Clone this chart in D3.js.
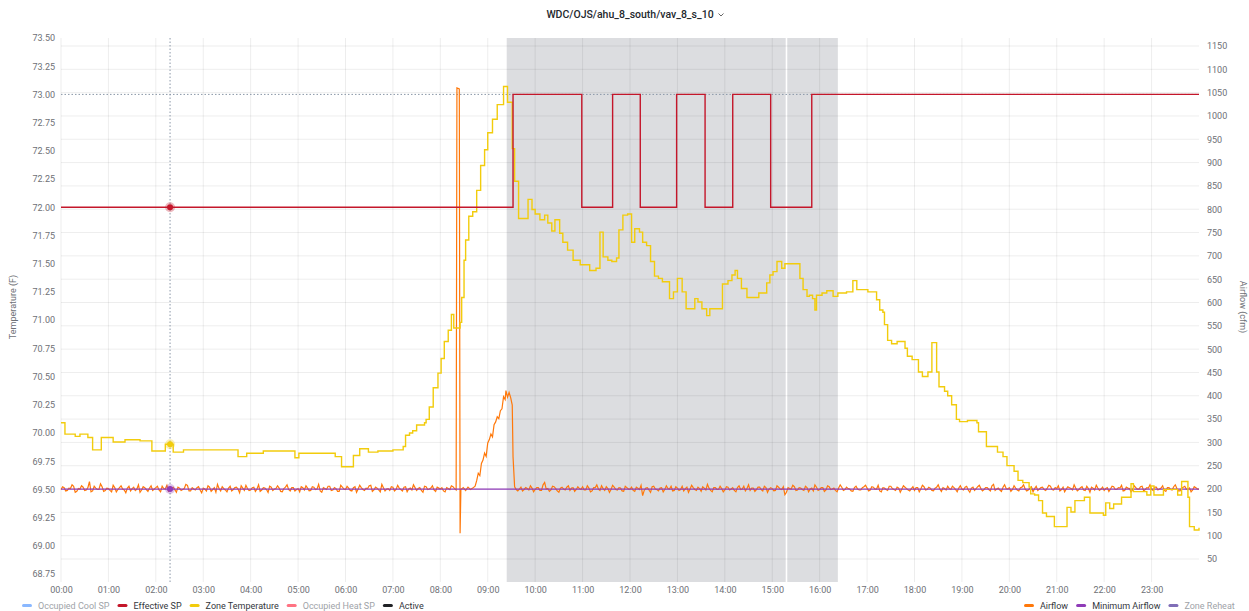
<!DOCTYPE html>
<html><head><meta charset="utf-8">
<script src="https://cdn.jsdelivr.net/npm/d3@7"></script>
<style>
html,body{margin:0;padding:0;background:#fff;}
svg{display:block;font-family:Roboto,"Noto Sans",sans-serif;}
</style></head>
<body><svg id="c" width="1249" height="611"></svg>
<script>
// ---------------- DATA ----------------
const title = "WDC/OJS/ahu_8_south/vav_8_s_10";
const hourTicks = ["00:00","01:00","02:00","03:00","04:00","05:00","06:00","07:00","08:00","09:00","10:00","11:00","12:00","13:00","14:00","15:00","16:00","17:00","18:00","19:00","20:00","21:00","22:00","23:00"];
const leftTicks = [68.75,69.00,69.25,69.50,69.75,70.00,70.25,70.50,70.75,71.00,71.25,71.50,71.75,72.00,72.25,72.50,72.75,73.00,73.25,73.50];
const rightTicks = [50,100,150,200,250,300,350,400,450,500,550,600,650,700,750,800,850,900,950,1000,1050,1100,1150];

// Effective SP (minutes since midnight, F) - step after
const spMinutes = [0,572,659,698,733,779,815,850,898,950,1440];
const spValues  = [72,73,72,73,72,73,72,73,72,73,73];

// Zone Temperature (minutes, F) - step after
const ztMinutes = [0,5,18,24,34,40,51,66,81,100,115,132,142,155,184,224,235,256,296,301,347,355,370,378,389,401,420,433,436,441,445,450,460,462,466,471,477,481,485,490,494,497,505,507,510,512,516,521,526,531,536,540,546,552,560,565,571,574,579,591,596,600,606,612,616,621,625,631,635,641,648,657,669,677,682,686,692,697,703,706,711,717,722,726,732,736,741,746,751,756,761,770,775,780,786,791,802,806,811,817,821,837,844,849,853,856,861,868,883,893,897,901,906,912,916,935,939,944,947,951,954,956,963,969,977,983,994,1002,1007,1021,1032,1036,1040,1042,1046,1051,1058,1068,1071,1077,1085,1090,1097,1102,1108,1111,1118,1122,1127,1133,1137,1147,1159,1161,1171,1185,1192,1197,1206,1211,1217,1225,1227,1232,1237,1242,1247,1257,1273,1278,1283,1295,1302,1319,1322,1327,1332,1342,1354,1357,1374,1379,1383,1395,1413,1418,1426,1428,1434,1440];
const ztValues  = [70.09,69.99,69.97,69.99,69.96,69.85,69.96,69.92,69.94,69.93,69.84,69.90,69.83,69.85,69.85,69.79,69.82,69.84,69.78,69.82,69.79,69.70,69.80,69.86,69.83,69.84,69.85,69.88,69.98,70.00,70.02,70.07,70.09,70.12,70.23,70.40,70.53,70.66,70.81,70.91,71.05,70.93,70.98,71.20,71.53,71.71,71.92,71.96,72.15,72.37,72.51,72.66,72.78,72.91,73.07,72.93,72.52,72.23,71.90,72.07,71.98,71.94,71.89,71.93,71.86,71.79,71.89,71.77,71.69,71.62,71.53,71.49,71.44,71.46,71.78,71.56,71.53,71.52,71.55,71.80,71.93,71.94,71.69,71.81,71.78,71.69,71.66,71.52,71.39,71.37,71.34,71.19,71.25,71.37,71.25,71.10,71.19,71.16,71.10,71.04,71.10,71.32,71.35,71.40,71.44,71.37,71.28,71.20,71.24,71.33,71.40,71.43,71.52,71.46,71.50,71.37,71.27,71.21,71.22,71.19,71.09,71.22,71.24,71.26,71.21,71.24,71.25,71.35,71.27,71.25,71.18,71.09,71.07,70.96,70.82,70.79,70.81,70.75,70.68,70.65,70.54,70.50,70.54,70.80,70.54,70.41,70.37,70.33,70.25,70.12,70.10,70.11,70.09,70.01,69.88,69.83,69.79,69.71,69.66,69.58,69.56,69.52,69.46,69.45,69.40,69.29,69.26,69.17,69.34,69.30,69.40,69.43,69.29,69.27,69.38,69.33,69.37,69.43,69.55,69.48,69.45,69.53,69.45,69.50,69.45,69.57,69.43,69.17,69.14,69.16];

// Airflow readings at minutes 0,4,8,... (cfm)
const airflowEven = [
199,203,197,201,206,195,200,204,198,216,196,202,199,205,197,
201,194,203,199,207,198,202,196,204,200,193,205,199,202,197,
203,198,206,200,195,202,199,204,197,201,208,196,200,203,198,
202,196,204,199,193,201,205,198,202,196,203,200,207,197,201,
198,204,200,195,203,199,206,197,201,202,194,204,199,203,196,
201,205,198,202,197,204,200,196,203,199,206,198,201,195,204,
199,202,196,205,200,203,197,201,208,198,202,194,203,200,197,
204,199,202,196,205,200,198,203,201,197,206,199,202,198,204,
200,196,203,199,205,201,197,202,198,204,200,203,196,201,199,
202,198,205,199,203,197,201,204,199,206,200,196,203,198,202,
199,203,197,214,201,198,205,196,202,200,204,197,203,199,201,
205,198,202,196,203,200,207,197,201,199,204,198,202,195,203,
200,197,204,199,186,202,198,205,200,196,203,199,201,206,197,
202,199,196,204,200,203,197,201,205,198,202,194,203,199,201,
198,204,200,197,203,199,206,201,197,202,199,204,196,203,200,
201,197,204,199,188,203,200,205,198,202,197,203,200,196,204,
199,203,198,205,200,197,202,204,199,201,196,203,200,198,205,
202,198,204,200,196,203,199,206,201,197,202,200,204,198,201,
197,203,200,205,199,202,196,204,200,203,198,201,206,199,202,
200,204,198,202,197,205,201,199,203,196,210,200,198,204,201,
203,199,202,196,204,200,198,205,201,197,203,199,202,206,198,
201,196,204,200,203,198,202,199,205,197,201,204,198,202,200,
197,203,200,205,199,202,196,204,201,198,203,200,206,199,202,
200,204,198,202,197,203,199,205,201,196,204,200,202,198,203,
200];
// Airflow readings at minutes 2,6,10,... (cfm)
const airflowOdd = [
205,196,202,209,193,201,207,197,203,194,206,199,211,195,202,
197,208,194,203,200,192,206,201,197,209,198,203,195,207,200,
206,194,201,208,197,204,193,202,199,210,196,203,198,205,192,
200,207,195,203,210,196,201,194,206,199,204,192,202,208,197,
203,195,209,198,202,193,204,200,207,195,201,209,196,203,199,
194,203,207,196,205,199,210,193,201,206,197,203,195,208,200,
206,197,203,193,208,199,202,207,195,204,198,210,196,201,205,
196,208,199,204,194,202,209,197,203,193,205,200,207,195,202,
203,194,201,207,198,205,193,209,200,196,204,199,206,197,203,
195,206,200,203,193,208,197,202,210,196,204,199,201,207,194,
203,197,209,200,195,206,201,193,204,198,207,202,195,205,199,
198,207,194,203,209,197,201,205,193,208,199,203,196,206,200,
204,195,202,208,197,203,193,206,199,202,194,207,200,196,205,
197,206,201,193,208,199,204,195,202,210,197,203,199,206,194,
205,198,203,194,207,200,196,209,202,195,204,199,206,193,203,
196,207,200,205,193,201,208,197,203,199,206,194,202,209,197,
203,195,207,199,202,194,209,197,204,200,195,206,198,203,208,
196,205,200,208,194,202,197,206,199,204,193,207,201,196,205,
203,194,208,198,204,197,202,209,195,201,206,199,203,194,207,
198,206,193,204,201,208,196,203,199,207,197,202,195,209,200,
195,207,198,203,209,196,202,194,206,200,204,197,208,199,203,
207,199,194,205,201,209,196,203,198,206,193,202,208,197,204,
201,195,206,199,203,208,197,202,194,207,200,205,196,203,209,
197,204,200,207,195,203,198,209,196,202,206,199,194,205,200];
// Airflow readings during the morning event (minutes, cfm)
const airflowEventMinutes = [498,500,501,504,505,506,509,512,515,518,521,524,526,528,530,532,534,536,538,540,542,544,546,548,550,552,554,556,558,560,562,563,565,567,569,571,572,574,576];
const airflowEventValues  = [201,198,1060,1058,105,199,203,197,204,199,202,206,218,234,229,255,262,277,270,299,306,318,312,338,344,355,351,368,372,398,392,411,397,407,396,380,269,205,199];

const minAirflowMinutes = [0,1440];
const minAirflowValues = [200,200];

// Occupancy band (minutes)
const bandStart = [564,919];
const bandEnd   = [917,983];
const cursorMinute = 138;
const cursorTempMark = 73.00;

const legendLeft = [
  {name:"Occupied Cool SP", color:"#8AB8FF", hidden:true},
  {name:"Effective SP", color:"#C4162A", hidden:false},
  {name:"Zone Temperature", color:"#F2CC0C", hidden:false},
  {name:"Occupied Heat SP", color:"#FF7383", hidden:true},
  {name:"Active", color:"#202226", hidden:false}
];
const legendRight = [
  {name:"Airflow", color:"#FF780A", hidden:false},
  {name:"Minimum Airflow", color:"#8F3BB8", hidden:false},
  {name:"Zone Reheat", color:"#806EB7", hidden:true}
];

// ---------------- CHART ----------------
const svg = d3.select("#c");
const pL = 61, pR = 1199, pT = 38, pB = 582;
const x = d3.scaleLinear().domain([0,1440]).range([pL,pR]);
const yL = d3.scaleLinear().domain([68.75,73.5]).range([574,38]);
const yR = d3.scaleLinear().domain([50,1150]).range([559,46]);

// band
svg.append("g").selectAll("rect").data(bandStart).join("rect")
  .attr("x",(d)=>x(d)).attr("width",(d,i)=>x(bandEnd[i])-x(d))
  .attr("y",pT).attr("height",pB-pT).attr("fill","#DCDDE0");

// grid
const grid = svg.append("g");
grid.selectAll("line.h").data(rightTicks).join("line")
  .attr("x1",pL).attr("x2",pR).attr("y1",d=>yR(d)).attr("y2",d=>yR(d))
  .attr("stroke","rgba(0,0,0,0.07)");
grid.selectAll("line.v").data(hourTicks).join("line")
  .attr("x1",(d,i)=>x(i*60)).attr("x2",(d,i)=>x(i*60)).attr("y1",pT).attr("y2",pB)
  .attr("stroke","rgba(0,0,0,0.07)");

// axes
const tickFont = g => g.selectAll("text").attr("fill","#6e7076").style("font-size","9px").style("font-family","Roboto");
const axL = svg.append("g").attr("transform",`translate(${pL},0)`)
  .call(d3.axisLeft(yL).tickValues(leftTicks).tickFormat(d3.format(".2f")).tickSize(0).tickPadding(6));
axL.select(".domain").remove(); tickFont(axL);
const axR = svg.append("g").attr("transform",`translate(${pR},0)`)
  .call(d3.axisRight(yR).tickValues(rightTicks).tickFormat(d3.format("d")).tickSize(0).tickPadding(8));
axR.select(".domain").remove(); tickFont(axR);
const axB = svg.append("g").attr("transform",`translate(0,${pB})`)
  .call(d3.axisBottom(x).tickValues(hourTicks.map((d,i)=>i*60)).tickFormat((d,i)=>hourTicks[i]).tickSize(0).tickPadding(5));
axB.select(".domain").remove(); tickFont(axB);

svg.append("text").attr("transform",`translate(16,307) rotate(-90)`).attr("text-anchor","middle")
  .attr("fill","#6e7076").style("font-size","9px").text("Temperature (F)");
svg.append("text").attr("transform",`translate(1240,307) rotate(90)`).attr("text-anchor","middle")
  .attr("fill","#6e7076").style("font-size","9px").text("Airflow (cfm)");

// title
svg.append("text").attr("x",630).attr("y",18).attr("text-anchor","middle")
  .attr("fill","#24292e").style("font-size","10.5px").style("font-weight","500").text(title);
svg.append("path").attr("d","M718.5,13.5 L721,16 L723.5,13.5").attr("fill","none").attr("stroke","#555").attr("stroke-width",0.9);

// crosshair
svg.append("line").attr("x1",pL).attr("x2",pR).attr("y1",yL(cursorTempMark)).attr("y2",yL(cursorTempMark))
  .attr("stroke","#8a97a8").attr("stroke-dasharray","1.5,2").attr("stroke-width",1);
svg.append("line").attr("x1",x(cursorMinute)).attr("x2",x(cursorMinute)).attr("y1",pT).attr("y2",pB)
  .attr("stroke","#8a97a8").attr("stroke-dasharray","1.5,2").attr("stroke-width",1);

// series
const lineStep = (xs,ys,sx,sy)=> d3.line().curve(d3.curveStepAfter).x((d,i)=>sx(xs[i])).y((d,i)=>sy(ys[i]))(xs);
const plot = svg.append("g");

// airflow: regular samples outside event window merged with event samples
let af = [];
airflowEven.forEach((v,i)=>{ const m=i*4; if(m<498||m>576) af.push([m,v]); });
airflowOdd.forEach((v,i)=>{ const m=i*4+2; if(m<498||m>576) af.push([m,v]); });
airflowEventMinutes.forEach((m,i)=>af.push([m,airflowEventValues[i]]));
af.sort((a,b)=>a[0]-b[0]);
plot.append("path").attr("d",d3.line().x(d=>x(d[0])).y(d=>yR(d[1]))(af))
  .attr("fill","none").attr("stroke","#FF780A").attr("stroke-width",1.2);

plot.append("path").attr("d",lineStep(minAirflowMinutes,minAirflowValues,x,yR))
  .attr("fill","none").attr("stroke","#8F3BB8").attr("stroke-width",1.2);

plot.append("path").attr("d",lineStep(ztMinutes,ztValues,x,yL))
  .attr("fill","none").attr("stroke","#F2CC0C").attr("stroke-width",1.4);

plot.append("path").attr("d",lineStep(spMinutes,spValues,x,yL))
  .attr("fill","none").attr("stroke","#C4162A").attr("stroke-width",1.4);

// cursor points
const spAt = spValues[d3.bisectRight(spMinutes,cursorMinute)-1];
const ztAt = ztValues[d3.bisectRight(ztMinutes,cursorMinute)-1];
const pts = [
  {y:yL(spAt), c:"#C4162A"},
  {y:yL(ztAt), c:"#F2CC0C"},
  {y:yR(minAirflowValues[0]), c:"#8F3BB8"}
];
pts.forEach(p=>{
  svg.append("circle").attr("cx",x(cursorMinute)).attr("cy",p.y).attr("r",5).attr("fill",p.c).attr("opacity",0.3);
  svg.append("circle").attr("cx",x(cursorMinute)).attr("cy",p.y).attr("r",3).attr("fill",p.c);
});

// legend
function legend(items,startX){
  let cx = startX;
  const g = svg.append("g");
  items.forEach(it=>{
    g.append("rect").attr("x",cx).attr("y",604).attr("width",10).attr("height",3).attr("rx",1.5).attr("fill",it.color);
    const t = g.append("text").attr("x",cx+16).attr("y",608.5).style("font-size","9px")
      .attr("fill",it.hidden?"#a0a3a8":"#33363b").text(it.name);
    cx += 16 + t.node().getComputedTextLength() + 8;
  });
}
legend(legendLeft,22);
legend(legendRight,1024);
</script></body></html>
